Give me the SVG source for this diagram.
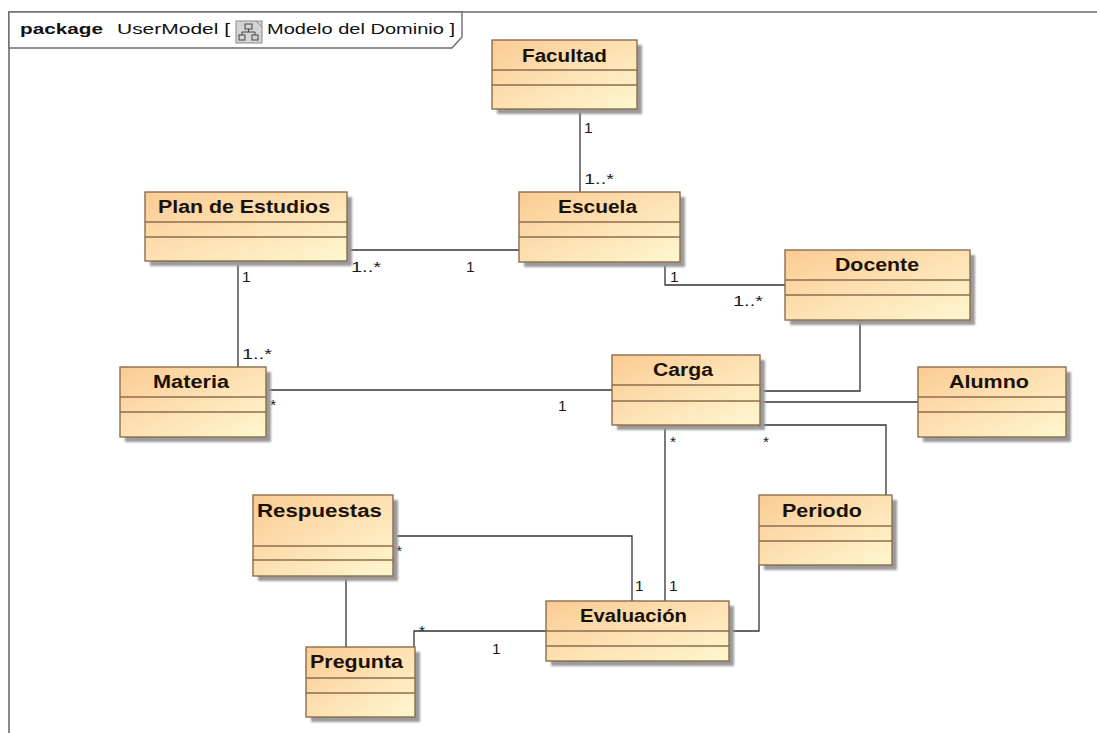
<svg xmlns="http://www.w3.org/2000/svg" width="1097" height="733" viewBox="0 0 1097 733">
  <defs>
    <linearGradient id="classFill" x1="0" y1="0" x2="1" y2="1">
      <stop offset="0" stop-color="#fbcb93"/>
      <stop offset="0.55" stop-color="#fde3b6"/>
      <stop offset="1" stop-color="#fff7cf"/>
    </linearGradient>
    <filter id="soft" x="-10%" y="-10%" width="130%" height="130%">
      <feGaussianBlur stdDeviation="1.2"/>
    </filter>
  </defs>
  <style>
    .frame { fill: none; stroke: #6e6e6e; stroke-width: 1.6; }
    .tab { fill: #ffffff; stroke: #6e6e6e; stroke-width: 1.4; }
    .shadow { fill: #9a9a9a; filter: url(#soft); }
    .box { fill: url(#classFill); stroke: #8c6d4b; stroke-width: 1.4; }
    .sep { stroke: #8c6d4b; stroke-width: 1.4; }
    .name { font-family: "Liberation Sans", Arial, sans-serif; font-weight: bold; font-size: 17.5px; fill: #1a1208; }
    .hdr { font-family: "Liberation Sans", Arial, sans-serif; font-size: 15px; fill: #111111; }
    .hdrb { font-weight: bold; }
    .conn path { fill: none; stroke: #333333; stroke-width: 1.3; }
    .mult { font-family: "Liberation Sans", Arial, sans-serif; font-size: 15.5px; fill: #1a1a1a; }
  </style>

  <rect width="1097" height="733" fill="#ffffff"/>

  <!-- package frame -->
  <g id="package-frame">
    <path class="frame" d="M9,733 V12 H1097"/>
    <path class="tab" d="M9,12 H462 V37 L452,48 H9 Z"/>
    <text class="hdr hdrb" x="20" y="34" textLength="83" lengthAdjust="spacingAndGlyphs">package</text>
    <text class="hdr" x="117" y="34" textLength="113" lengthAdjust="spacingAndGlyphs">UserModel [</text>
    <g id="diagram-icon">
      <rect x="236" y="21" width="26" height="22" fill="#d4d4d4" stroke="#8a8a8a" stroke-width="1"/>
      <path d="M256,21 L262,27" stroke="#8a8a8a" stroke-width="1" fill="none"/>
      <rect x="245" y="24" width="7" height="5" fill="none" stroke="#444" stroke-width="1"/>
      <path d="M248.5,29 V32 M242,32 H255 M242,32 V35 M255,32 V35" stroke="#444" stroke-width="1" fill="none"/>
      <rect x="239" y="35" width="6" height="5" fill="none" stroke="#444" stroke-width="1"/>
      <rect x="252" y="35" width="6" height="5" fill="none" stroke="#444" stroke-width="1"/>
    </g>
    <text class="hdr" x="267" y="34" textLength="188" lengthAdjust="spacingAndGlyphs">Modelo del Dominio ]</text>
  </g>

  <!-- associations -->
  <g id="connectors" class="conn">
    <path d="M580,109 V192"/>
    <path d="M347,250 H519"/>
    <path d="M665,262 V285 H785"/>
    <path d="M238,261 V367"/>
    <path d="M266,390 H612"/>
    <path d="M860,320 V391 H760"/>
    <path d="M760,402 H918"/>
    <path d="M760,425 H886 V495"/>
    <path d="M665,425 V601"/>
    <path d="M393,536 H632 V601"/>
    <path d="M346,576 V647"/>
    <path d="M414,647 V631 H546"/>
    <path d="M729,631 H759 V565"/>
  </g>

  <!-- multiplicities -->
  <g id="multiplicities" class="mult">
    <text x="584" y="133">1</text>
    <text x="584" y="184" textLength="30" lengthAdjust="spacingAndGlyphs">1..*</text>
    <text x="351" y="272" textLength="30" lengthAdjust="spacingAndGlyphs">1..*</text>
    <text x="466" y="272">1</text>
    <text x="670" y="282">1</text>
    <text x="733" y="306" textLength="30" lengthAdjust="spacingAndGlyphs">1..*</text>
    <text x="242" y="282">1</text>
    <text x="242" y="359" textLength="30" lengthAdjust="spacingAndGlyphs">1..*</text>
    <text x="270" y="410">*</text>
    <text x="558" y="411">1</text>
    <text x="670" y="447">*</text>
    <text x="763" y="447">*</text>
    <text x="396" y="556">*</text>
    <text x="635" y="591">1</text>
    <text x="669" y="591">1</text>
    <text x="419" y="636">*</text>
    <text x="492" y="654">1</text>
  </g>

  <!-- classes -->
  <g id="Facultad">
    <rect class="shadow" x="497" y="45" width="145" height="69"/>
    <rect class="box" x="492" y="40" width="145" height="69"/>
    <line class="sep" x1="492" y1="70" x2="637" y2="70"/>
    <line class="sep" x1="492" y1="85" x2="637" y2="85"/>
    <text class="name" x="522" y="62" textLength="85" lengthAdjust="spacingAndGlyphs">Facultad</text>
  </g>

  <g id="PlanDeEstudios">
    <rect class="shadow" x="150" y="197" width="202" height="69"/>
    <rect class="box" x="145" y="192" width="202" height="69"/>
    <line class="sep" x1="145" y1="222" x2="347" y2="222"/>
    <line class="sep" x1="145" y1="237" x2="347" y2="237"/>
    <text class="name" x="158" y="213" textLength="172" lengthAdjust="spacingAndGlyphs">Plan de Estudios</text>
  </g>

  <g id="Escuela">
    <rect class="shadow" x="524" y="197" width="161" height="70"/>
    <rect class="box" x="519" y="192" width="161" height="70"/>
    <line class="sep" x1="519" y1="222" x2="680" y2="222"/>
    <line class="sep" x1="519" y1="237" x2="680" y2="237"/>
    <text class="name" x="558" y="213" textLength="79" lengthAdjust="spacingAndGlyphs">Escuela</text>
  </g>

  <g id="Docente">
    <rect class="shadow" x="790" y="255" width="185" height="70"/>
    <rect class="box" x="785" y="250" width="185" height="70"/>
    <line class="sep" x1="785" y1="280" x2="970" y2="280"/>
    <line class="sep" x1="785" y1="295" x2="970" y2="295"/>
    <text class="name" x="835" y="271" textLength="84" lengthAdjust="spacingAndGlyphs">Docente</text>
  </g>

  <g id="Materia">
    <rect class="shadow" x="125" y="372" width="146" height="70"/>
    <rect class="box" x="120" y="367" width="146" height="70"/>
    <line class="sep" x1="120" y1="397" x2="266" y2="397"/>
    <line class="sep" x1="120" y1="412" x2="266" y2="412"/>
    <text class="name" x="153" y="388" textLength="76" lengthAdjust="spacingAndGlyphs">Materia</text>
  </g>

  <g id="Carga">
    <rect class="shadow" x="617" y="360" width="148" height="70"/>
    <rect class="box" x="612" y="355" width="148" height="70"/>
    <line class="sep" x1="612" y1="385" x2="760" y2="385"/>
    <line class="sep" x1="612" y1="401" x2="760" y2="401"/>
    <text class="name" x="653" y="376" textLength="60" lengthAdjust="spacingAndGlyphs">Carga</text>
  </g>

  <g id="Alumno">
    <rect class="shadow" x="923" y="372" width="148" height="70"/>
    <rect class="box" x="918" y="367" width="148" height="70"/>
    <line class="sep" x1="918" y1="397" x2="1066" y2="397"/>
    <line class="sep" x1="918" y1="412" x2="1066" y2="412"/>
    <text class="name" x="949" y="388" textLength="80" lengthAdjust="spacingAndGlyphs">Alumno</text>
  </g>

  <g id="Respuestas">
    <rect class="shadow" x="258" y="500" width="140" height="81"/>
    <rect class="box" x="253" y="495" width="140" height="81"/>
    <line class="sep" x1="253" y1="546" x2="393" y2="546"/>
    <line class="sep" x1="253" y1="560" x2="393" y2="560"/>
    <text class="name" x="257" y="517" textLength="125" lengthAdjust="spacingAndGlyphs">Respuestas</text>
  </g>

  <g id="Periodo">
    <rect class="shadow" x="764" y="500" width="133" height="70"/>
    <rect class="box" x="759" y="495" width="133" height="70"/>
    <line class="sep" x1="759" y1="526" x2="892" y2="526"/>
    <line class="sep" x1="759" y1="541" x2="892" y2="541"/>
    <text class="name" x="782" y="517" textLength="80" lengthAdjust="spacingAndGlyphs">Periodo</text>
  </g>

  <g id="Pregunta">
    <rect class="shadow" x="311" y="652" width="109" height="70"/>
    <rect class="box" x="306" y="647" width="109" height="70"/>
    <line class="sep" x1="306" y1="678" x2="415" y2="678"/>
    <line class="sep" x1="306" y1="693" x2="415" y2="693"/>
    <text class="name" x="310" y="668" textLength="93" lengthAdjust="spacingAndGlyphs">Pregunta</text>
  </g>

  <g id="Evaluacion">
    <rect class="shadow" x="551" y="606" width="183" height="60"/>
    <rect class="box" x="546" y="601" width="183" height="60"/>
    <line class="sep" x1="546" y1="631" x2="729" y2="631"/>
    <line class="sep" x1="546" y1="646" x2="729" y2="646"/>
    <text class="name" x="580" y="622" textLength="107" lengthAdjust="spacingAndGlyphs">Evaluación</text>
  </g>
</svg>
